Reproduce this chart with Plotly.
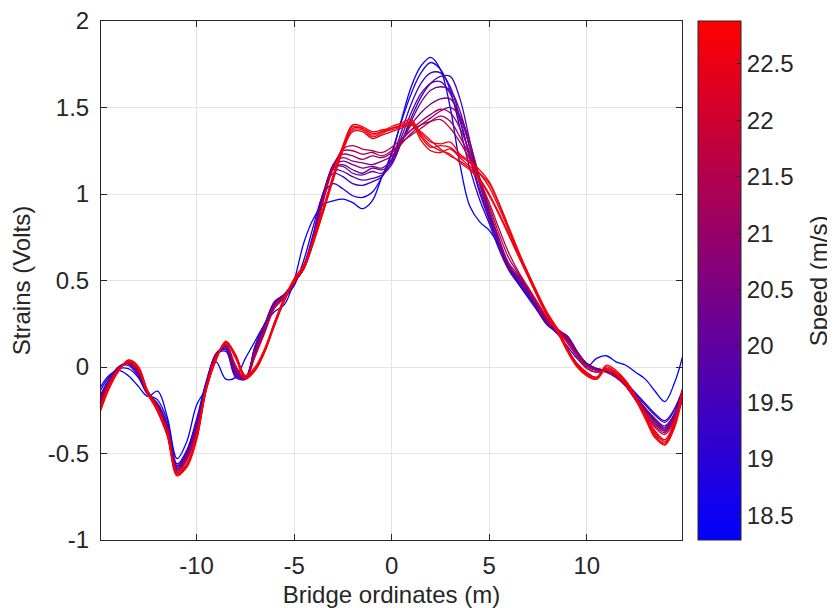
import plotly.graph_objects as go
from plotly.colors import sample_colorscale

X = [-15.0, -14.5, -14.0, -13.5, -13.0, -12.5, -12.0, -11.5, -11.0, -10.5, -10.0,
     -9.5, -9.0, -8.5, -8.0, -7.5, -7.0, -6.5, -6.0, -5.5, -5.0,
     -4.5, -4.0, -3.5, -3.0, -2.5, -2.0, -1.5, -1.0, -0.5, 0.0,
     0.5, 1.0, 1.5, 2.0, 2.5, 3.0, 3.5, 4.0, 4.5, 5.0,
     5.5, 6.0, 6.5, 7.0, 7.5, 8.0, 8.5, 9.0, 9.5, 10.0,
     10.5, 11.0, 11.5, 12.0, 12.5, 13.0, 13.5, 14.0, 14.5, 15.0]

SPEEDS = [18.30, 18.90, 19.30, 19.60, 19.90, 20.10, 20.40, 20.70, 21.00, 21.30, 21.60,
          22.20, 22.40, 22.60, 22.75, 22.88]

S1830 = [-0.13, -0.05, -0.02, -0.05, -0.11, -0.17, -0.14, -0.29, -0.53, -0.43, -0.22,
         -0.12, 0.03, -0.07, -0.06, 0.05, 0.15, 0.25, 0.32, 0.36, 0.50,
         0.72, 0.86, 0.94, 0.96, 0.97, 0.95, 0.915, 0.96, 1.10, 1.23,
         1.43, 1.62, 1.74, 1.79, 1.72, 1.50, 1.17, 0.93, 0.84, 0.79,
         0.70, 0.58, 0.48, 0.40, 0.32, 0.25, 0.19, 0.12, 0.05, 0.00,
         0.05, 0.065, 0.03, 0.01, -0.03, -0.07, -0.14, -0.20, -0.09, 0.10]
S1890 = [-0.15, -0.06, -0.01, -0.01, -0.06, -0.16, -0.19, -0.31, -0.56, -0.48, -0.30,
         -0.08, 0.07, 0.09, -0.06, -0.07, 0.12, 0.25, 0.36, 0.40, 0.47,
         0.62, 0.82, 1.00, 1.06, 1.03, 0.99, 0.98, 1.01, 1.10, 1.24,
         1.42, 1.58, 1.70, 1.76, 1.72, 1.60, 1.38, 1.15, 0.97, 0.83,
         0.68, 0.56, 0.48, 0.41, 0.33, 0.25, 0.20, 0.15, 0.08, 0.02,
         -0.01, -0.02, -0.05, -0.09, -0.15, -0.21, -0.27, -0.31, -0.24, -0.10]
S1930 = [-0.18, -0.07, 0.0, 0.01, -0.05, -0.16, -0.21, -0.33, -0.57, -0.49, -0.32,
         -0.09, 0.07, 0.10, -0.05, -0.07, 0.12, 0.25, 0.37, 0.41, 0.48,
         0.59, 0.78, 1.01, 1.12, 1.10, 1.06, 1.05, 1.07, 1.10, 1.20,
         1.36, 1.52, 1.64, 1.70, 1.70, 1.62, 1.44, 1.21, 1.01, 0.85,
         0.70, 0.57, 0.49, 0.42, 0.33, 0.25, 0.20, 0.16, 0.08, 0.02,
         -0.01, -0.02, -0.05, -0.10, -0.16, -0.22, -0.28, -0.32, -0.25, -0.11]
S1960 = [-0.20, -0.08, -0.005, 0.02, -0.04, -0.15, -0.22, -0.34, -0.58, -0.50, -0.34,
         -0.10, 0.07, 0.11, -0.04, -0.07, 0.11, 0.24, 0.37, 0.42, 0.49,
         0.58, 0.76, 1.00, 1.14, 1.13, 1.10, 1.08, 1.09, 1.11, 1.17,
         1.30, 1.44, 1.56, 1.64, 1.68, 1.68, 1.55, 1.31, 1.07, 0.88,
         0.72, 0.58, 0.51, 0.43, 0.33, 0.24, 0.21, 0.18, 0.09, 0.02,
         -0.01, -0.02, -0.05, -0.10, -0.17, -0.24, -0.30, -0.35, -0.27, -0.12]
S1990 = [-0.19, -0.08, 0.0, 0.02, -0.04, -0.15, -0.23, -0.34, -0.58, -0.50, -0.34,
         -0.10, 0.08, 0.11, -0.05, -0.06, 0.12, 0.25, 0.38, 0.42, 0.49,
         0.58, 0.77, 1.01, 1.15, 1.16, 1.12, 1.11, 1.13, 1.12, 1.19,
         1.33, 1.47, 1.58, 1.64, 1.65, 1.58, 1.42, 1.22, 1.03, 0.86,
         0.71, 0.57, 0.50, 0.42, 0.32, 0.24, 0.20, 0.17, 0.09, 0.02,
         -0.01, -0.02, -0.05, -0.10, -0.17, -0.24, -0.31, -0.36, -0.28, -0.13]
S2010 = [-0.21, -0.09, -0.01, 0.02, -0.03, -0.14, -0.22, -0.35, -0.59, -0.51, -0.35,
         -0.11, 0.07, 0.12, -0.03, -0.07, 0.10, 0.24, 0.37, 0.42, 0.49,
         0.57, 0.75, 0.99, 1.15, 1.17, 1.14, 1.12, 1.15, 1.14, 1.18,
         1.30, 1.42, 1.53, 1.60, 1.62, 1.60, 1.48, 1.27, 1.06, 0.88,
         0.72, 0.57, 0.52, 0.45, 0.34, 0.25, 0.21, 0.18, 0.09, 0.01,
         -0.02, -0.02, -0.05, -0.10, -0.17, -0.24, -0.30, -0.34, -0.27, -0.12]
S2040 = [-0.20, -0.08, 0.0, 0.025, -0.03, -0.15, -0.23, -0.35, -0.59, -0.51, -0.35,
         -0.11, 0.07, 0.12, -0.03, -0.07, 0.10, 0.23, 0.36, 0.42, 0.49,
         0.57, 0.75, 0.99, 1.16, 1.19, 1.17, 1.15, 1.16, 1.15, 1.20,
         1.30, 1.40, 1.47, 1.52, 1.55, 1.55, 1.45, 1.27, 1.08, 0.90,
         0.73, 0.58, 0.51, 0.43, 0.34, 0.26, 0.22, 0.17, 0.08, 0.02,
         -0.01, -0.03, -0.06, -0.11, -0.18, -0.25, -0.31, -0.36, -0.28, -0.13]
S2070 = [-0.22, -0.09, -0.01, 0.025, -0.03, -0.14, -0.23, -0.36, -0.60, -0.52, -0.36,
         -0.11, 0.07, 0.12, -0.02, -0.07, 0.09, 0.23, 0.36, 0.41, 0.49,
         0.57, 0.74, 0.98, 1.17, 1.21, 1.19, 1.18, 1.17, 1.19, 1.22,
         1.29, 1.35, 1.40, 1.44, 1.48, 1.50, 1.45, 1.30, 1.10, 0.91,
         0.74, 0.59, 0.52, 0.44, 0.35, 0.26, 0.21, 0.16, 0.08, 0.01,
         -0.02, -0.02, -0.05, -0.11, -0.18, -0.25, -0.32, -0.37, -0.29, -0.14]
S2100 = [-0.21, -0.09, -0.01, 0.03, -0.02, -0.15, -0.24, -0.36, -0.60, -0.53, -0.37,
         -0.12, 0.06, 0.13, -0.01, -0.07, 0.08, 0.22, 0.36, 0.41, 0.49,
         0.57, 0.74, 0.98, 1.17, 1.23, 1.22, 1.20, 1.22, 1.21, 1.24,
         1.31, 1.37, 1.42, 1.46, 1.49, 1.47, 1.38, 1.24, 1.07, 0.90,
         0.74, 0.60, 0.53, 0.44, 0.35, 0.27, 0.22, 0.17, 0.08, 0.01,
         -0.02, -0.03, -0.06, -0.11, -0.19, -0.26, -0.33, -0.37, -0.29, -0.14]
S2130 = [-0.23, -0.10, -0.01, 0.03, -0.02, -0.14, -0.23, -0.37, -0.60, -0.53, -0.37,
         -0.12, 0.06, 0.13, 0.0, -0.07, 0.07, 0.21, 0.35, 0.41, 0.49,
         0.57, 0.74, 0.97, 1.16, 1.25, 1.25, 1.23, 1.24, 1.22, 1.25,
         1.30, 1.34, 1.38, 1.42, 1.45, 1.42, 1.33, 1.22, 1.08, 0.93,
         0.77, 0.63, 0.54, 0.45, 0.36, 0.27, 0.21, 0.15, 0.07, 0.0,
         -0.03, -0.02, -0.05, -0.11, -0.19, -0.27, -0.34, -0.38, -0.30, -0.15]
S2160 = [-0.24, -0.10, -0.015, 0.03, -0.01, -0.15, -0.24, -0.37, -0.61, -0.54, -0.38,
         -0.12, 0.06, 0.13, 0.01, -0.07, 0.06, 0.20, 0.34, 0.40, 0.49,
         0.57, 0.73, 0.96, 1.15, 1.26, 1.28, 1.26, 1.25, 1.24, 1.27,
         1.32, 1.37, 1.40, 1.42, 1.43, 1.38, 1.30, 1.20, 1.08, 0.95,
         0.80, 0.66, 0.55, 0.46, 0.37, 0.28, 0.22, 0.14, 0.06, -0.01,
         -0.03, -0.02, -0.05, -0.11, -0.19, -0.27, -0.35, -0.39, -0.31, -0.16]
S2220 = [-0.26, -0.12, -0.02, 0.03, -0.005, -0.15, -0.25, -0.39, -0.61, -0.56, -0.41,
         -0.11, 0.06, 0.14, 0.05, -0.06, -0.02, 0.09, 0.24, 0.38, 0.49,
         0.57, 0.72, 0.90, 1.08, 1.25, 1.36, 1.36, 1.32, 1.34, 1.36,
         1.38, 1.40, 1.36, 1.31, 1.26, 1.22, 1.19, 1.15, 1.09, 1.00,
         0.89, 0.77, 0.64, 0.52, 0.40, 0.29, 0.21, 0.10, 0.02, -0.03,
         -0.06, -0.01, -0.04, -0.09, -0.18, -0.28, -0.38, -0.43, -0.32, -0.08]
S2240 = [-0.27, -0.12, -0.02, 0.035, 0.0, -0.15, -0.26, -0.40, -0.62, -0.57, -0.42,
         -0.12, 0.05, 0.145, 0.06, -0.06, -0.01, 0.10, 0.25, 0.39, 0.50,
         0.58, 0.73, 0.91, 1.10, 1.27, 1.38, 1.38, 1.35, 1.36, 1.37,
         1.39, 1.42, 1.33, 1.27, 1.28, 1.27, 1.22, 1.18, 1.12, 1.04,
         0.92, 0.79, 0.65, 0.53, 0.41, 0.30, 0.21, 0.10, 0.01, -0.04,
         -0.06, 0.0, -0.03, -0.09, -0.18, -0.29, -0.40, -0.44, -0.33, -0.09]
S2260 = [-0.28, -0.13, -0.025, 0.04, 0.005, -0.14, -0.25, -0.39, -0.63, -0.57, -0.41,
         -0.13, 0.04, 0.15, 0.07, -0.05, -0.01, 0.10, 0.26, 0.40, 0.50,
         0.58, 0.74, 0.92, 1.11, 1.28, 1.40, 1.39, 1.36, 1.37, 1.38,
         1.40, 1.41, 1.31, 1.25, 1.24, 1.26, 1.21, 1.16, 1.12, 1.06,
         0.94, 0.80, 0.66, 0.54, 0.42, 0.31, 0.22, 0.11, 0.01, -0.05,
         -0.07, -0.01, -0.03, -0.08, -0.17, -0.28, -0.39, -0.45, -0.34, -0.10]
S2275 = [-0.26, -0.11, -0.015, 0.03, -0.01, -0.16, -0.25, -0.38, -0.62, -0.56, -0.40,
         -0.12, 0.05, 0.14, 0.06, -0.07, -0.02, 0.09, 0.25, 0.39, 0.51,
         0.59, 0.73, 0.90, 1.09, 1.26, 1.37, 1.37, 1.33, 1.35, 1.38,
         1.39, 1.40, 1.35, 1.30, 1.29, 1.30, 1.23, 1.19, 1.14, 1.07,
         0.95, 0.81, 0.67, 0.54, 0.42, 0.30, 0.22, 0.11, 0.02, -0.04,
         -0.06, 0.01, -0.02, -0.08, -0.17, -0.27, -0.37, -0.42, -0.31, -0.07]
S2288 = [-0.27, -0.12, -0.02, 0.04, 0.0, -0.15, -0.24, -0.39, -0.62, -0.58, -0.42,
         -0.13, 0.04, 0.145, 0.07, -0.05, 0.0, 0.11, 0.26, 0.40, 0.51,
         0.59, 0.74, 0.92, 1.10, 1.27, 1.39, 1.38, 1.34, 1.36, 1.39,
         1.41, 1.43, 1.34, 1.28, 1.25, 1.23, 1.18, 1.14, 1.08, 0.99,
         0.88, 0.76, 0.64, 0.52, 0.40, 0.29, 0.20, 0.09, 0.00, -0.05,
         -0.07, -0.01, -0.04, -0.10, -0.19, -0.30, -0.41, -0.45, -0.35, -0.11]

STRAINS = [S1830, S1890, S1930, S1960, S1990, S2010, S2040, S2070, S2100, S2130, S2160,
           S2220, S2240, S2260, S2275, S2288]

CMIN, CMAX = 18.28, 22.88
COLORSCALE = [[0.0, "rgb(0,0,255)"], [1.0, "rgb(255,0,0)"]]
CB_TICKS = [18.5, 19, 19.5, 20, 20.5, 21, 21.5, 22, 22.5]
X_TICKS = [-10, -5, 0, 5, 10]
Y_TICKS = [-1, -0.5, 0, 0.5, 1, 1.5, 2]
Y_TICKTEXT = ["-1", "-0.5", "0", "0.5", "1", "1.5", "2"]

FONT = "Liberation Sans, Arial, Helvetica, sans-serif"
FS = 24
TXT = "#262626"

fig = go.Figure()
for spd, ys in zip(SPEEDS, STRAINS):
    col = sample_colorscale(COLORSCALE, [(spd - CMIN) / (CMAX - CMIN)])[0]
    fig.add_trace(go.Scatter(x=X, y=ys, mode="lines",
                             line=dict(color=col, width=1.3, shape="spline"),
                             showlegend=False, hoverinfo="skip"))

fig.add_trace(go.Scatter(
    x=[None], y=[None], mode="markers", showlegend=False, hoverinfo="skip",
    marker=dict(color=SPEEDS, colorscale=COLORSCALE, cmin=CMIN, cmax=CMAX,
                showscale=True, size=0,
                colorbar=dict(
                    x=1.0275, xanchor="left", xref="paper",
                    y=0.5, yanchor="middle", len=1.0, lenmode="fraction",
                    thickness=43, thicknessmode="pixels", xpad=0, ypad=0,
                    outlinewidth=1, outlinecolor=TXT,
                    tickvals=CB_TICKS, ticktext=[str(v) for v in CB_TICKS],
                    ticks="inside", ticklen=5, tickcolor=TXT,
                    tickfont=dict(family=FONT, size=FS, color=TXT),
                ))))

fig.add_annotation(text="Speed (m/s)", xref="paper", yref="paper",
                   x=1.2355, y=0.50, xanchor="center", yanchor="middle",
                   textangle=-90, showarrow=False,
                   font=dict(family=FONT, size=FS, color=TXT))

axis_common = dict(showgrid=True, gridcolor="#e3e3e3", gridwidth=1,
                   showline=True, linecolor=TXT, linewidth=1, mirror="ticks",
                   ticks="inside", ticklen=6, tickcolor=TXT, zeroline=False,
                   automargin=False, ticklabeloverflow="allow",
                   tickfont=dict(family=FONT, size=FS, color=TXT))

fig.update_layout(
    width=827, height=600,
    margin=dict(l=93, r=153, t=13, b=68),
    paper_bgcolor="white", plot_bgcolor="white",
    font=dict(family=FONT, size=FS, color=TXT),
    xaxis=dict(range=[-14.9, 14.88], tickvals=X_TICKS,
               ticktext=[str(v) for v in X_TICKS], ticklabelstandoff=4,
               title=dict(text="Bridge ordinates (m)", standoff=10,
                          font=dict(family=FONT, size=FS, color=TXT)),
               **axis_common),
    yaxis=dict(range=[-1, 2], tickvals=Y_TICKS, ticktext=Y_TICKTEXT,
               ticklabelstandoff=6,
               title=dict(text="Strains (Volts)", standoff=10,
                          font=dict(family=FONT, size=FS, color=TXT)),
               **axis_common),
)

fig.write_html("out.html")
